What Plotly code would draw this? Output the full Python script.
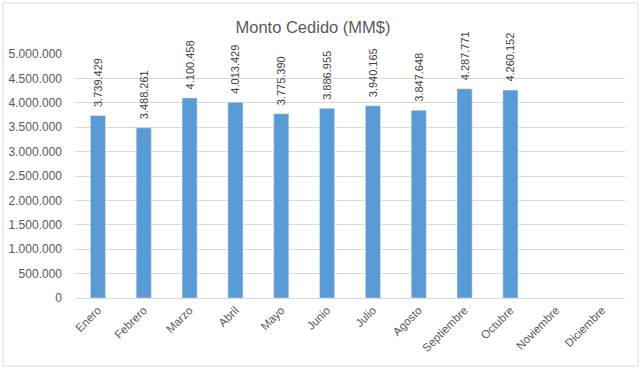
import plotly.graph_objects as go

meses = ["Enero", "Febrero", "Marzo", "Abril", "Mayo", "Junio", "Julio",
         "Agosto", "Septiembre", "Octubre", "Noviembre", "Diciembre"]
monto = [3739429, 3488261, 4100458, 4013429, 3775390, 3886955, 3940165,
         3847648, 4287771, 4260152, None, None]

W, H = 642, 369
L, R, T, B = 75, 17, 54, 71

fig = go.Figure(go.Bar(
    x=meses, y=monto,
    marker_color="#5B9BD5",
    width=0.33,
    texttemplate="\u2002%{y:,.0f}",
    textposition="outside",
    textangle=-90,
    constraintext="none",
    cliponaxis=False,
    hoverinfo="skip",
    textfont=dict(size=11, color="#404040", family="Liberation Sans, Arial"),
))

pw = W - L - R
ph = H - T - B
fig.add_shape(type="rect", xref="paper", yref="paper",
              x0=(3 - L) / pw, x1=(638 - L) / pw,
              y0=(H - B - 366) / ph, y1=(H - B - 3) / ph,
              line=dict(color="#D9D9D9", width=1), fillcolor="rgba(0,0,0,0)",
              layer="below")

fig.update_layout(
    width=W, height=H,
    margin=dict(l=L, r=R, t=T, b=B, autoexpand=False),
    paper_bgcolor="white", plot_bgcolor="white",
    separators=",.",
    showlegend=False,
    title=dict(text="Monto Cedido (MM$)", x=313 / W, xanchor="center",
               y=1 - 27 / H, yanchor="middle",
               font=dict(size=16.5, color="#595959", family="Liberation Sans, Arial")),
    font=dict(family="Liberation Sans, Arial", size=12, color="#595959"),
    xaxis=dict(tickangle=-45, showgrid=False, showline=True, automargin=False,
               linecolor="#D9D9D9", ticks="", tickfont=dict(size=11.5, color="#595959")),
    yaxis=dict(range=[0, 5000000], dtick=500000, tickformat=",.0f", automargin=False,
               showgrid=True, gridcolor="#D9D9D9", zeroline=False,
               showline=False, ticks="", ticklabelstandoff=12,
               tickfont=dict(size=12, color="#595959")),
)

fig.write_html("out.html",
               config={"displayModeBar": False, "staticPlot": True},
               post_script="document.body.style.margin='0';document.body.style.overflow='hidden';")
